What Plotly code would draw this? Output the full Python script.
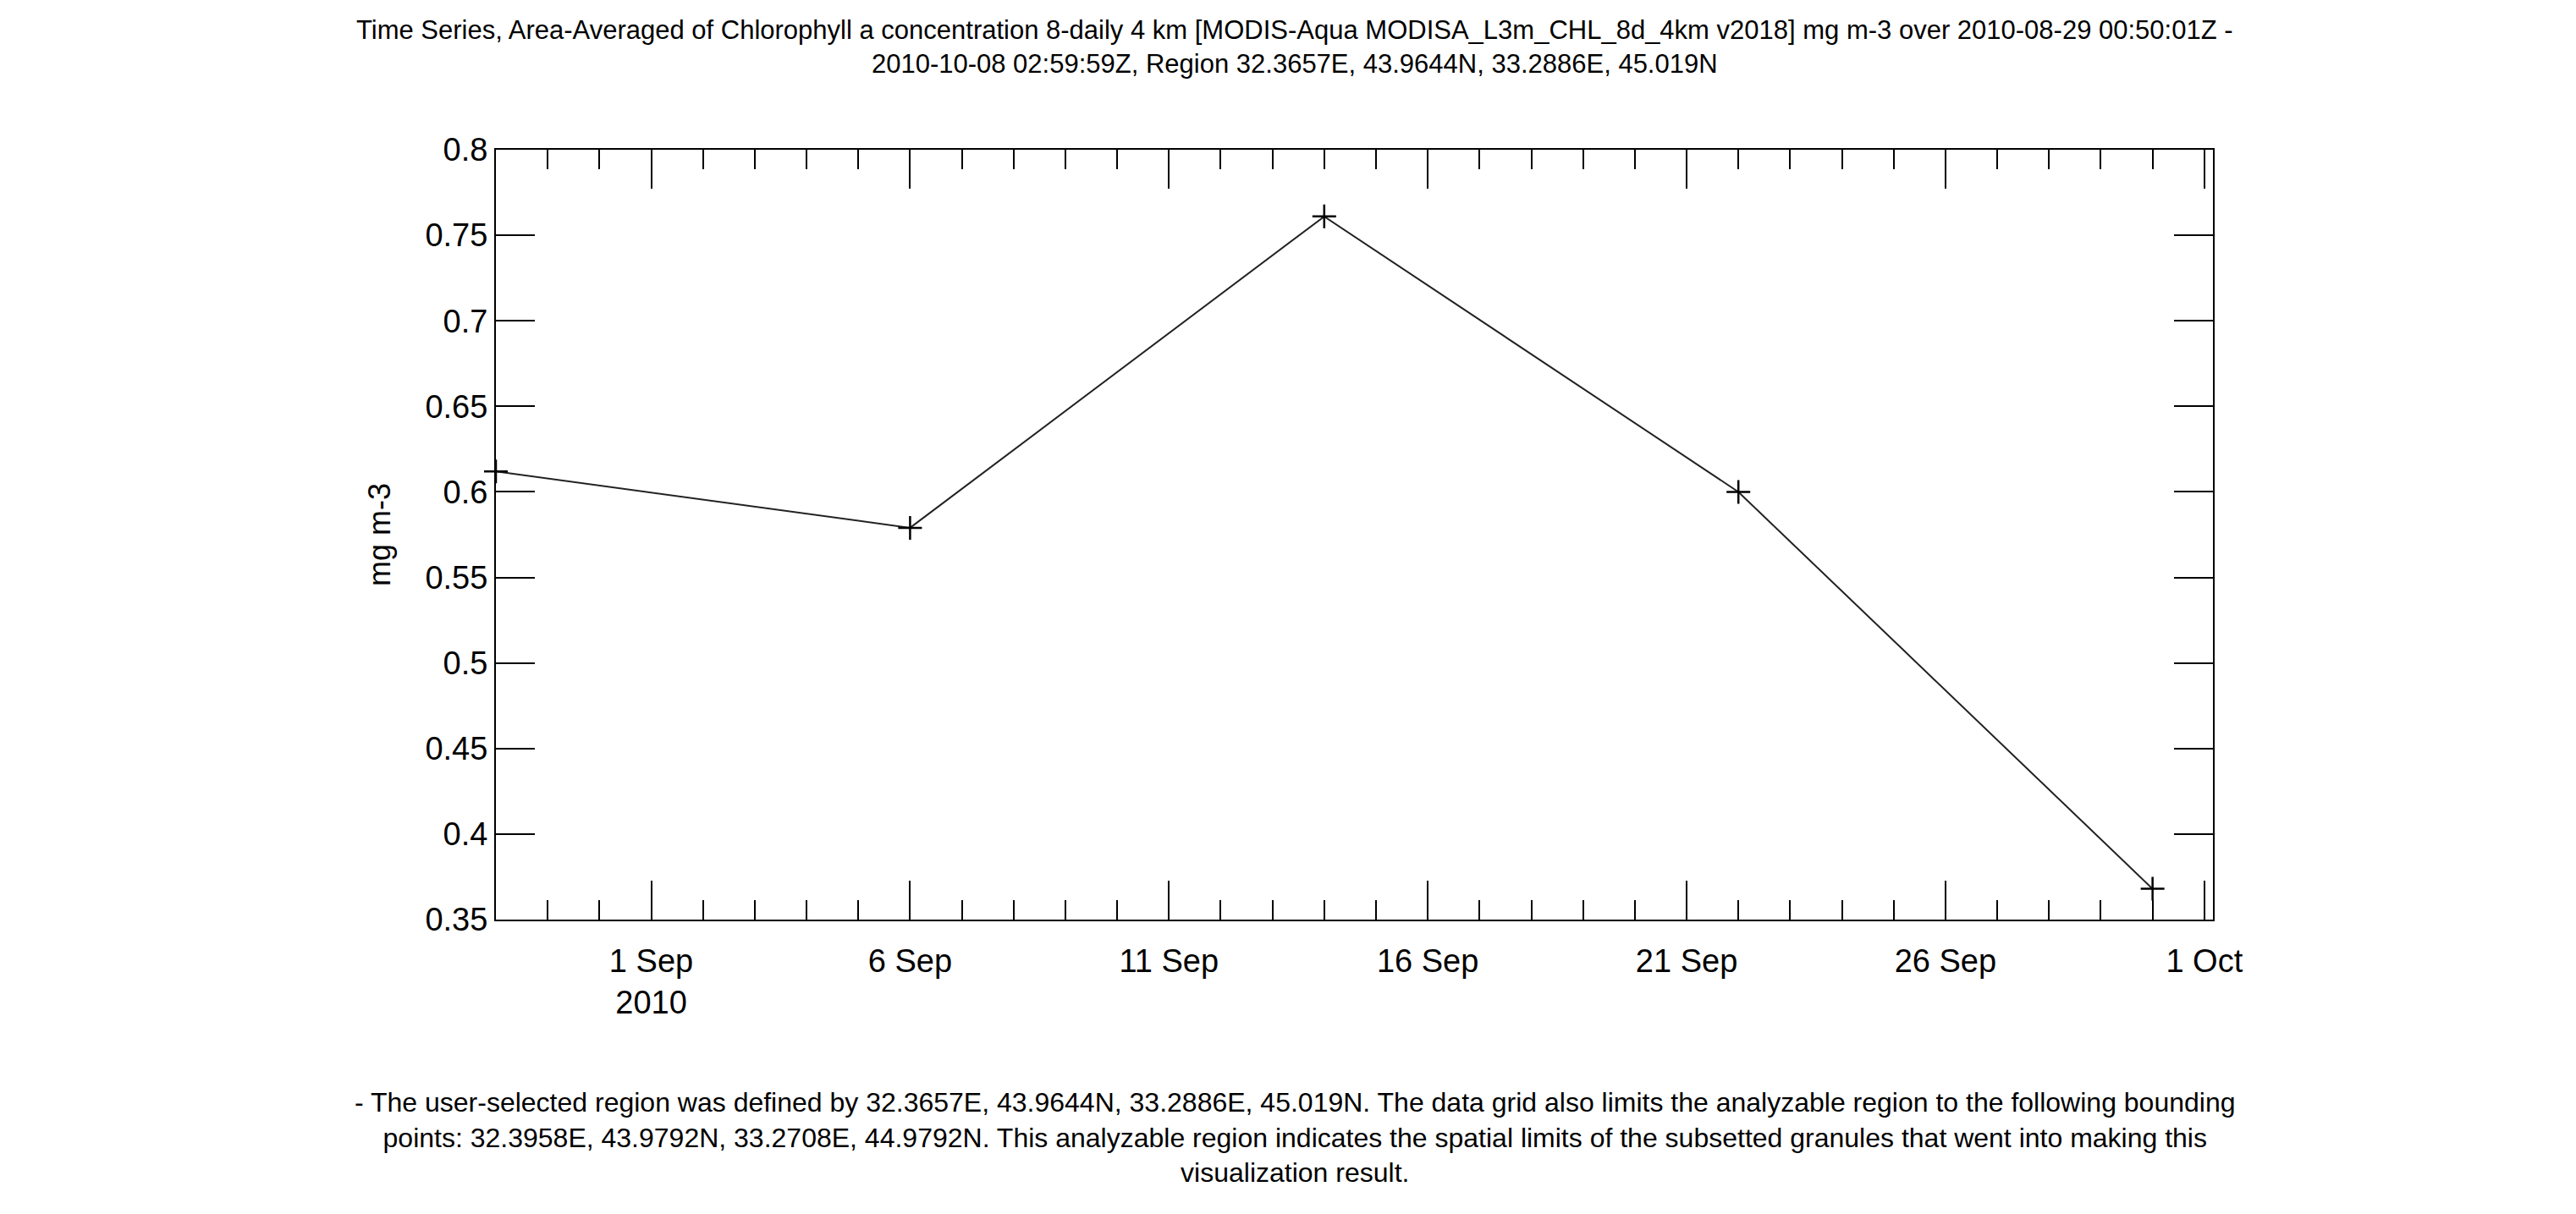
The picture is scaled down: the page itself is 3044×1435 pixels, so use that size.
import plotly.graph_objects as go

dates = ["2010-08-29", "2010-09-06", "2010-09-14", "2010-09-22", "2010-09-30"]
values = [0.612, 0.579, 0.761, 0.600, 0.368]
tick_dates = ["2010-09-01", "2010-09-06", "2010-09-11", "2010-09-16", "2010-09-21", "2010-09-26", "2010-10-01"]
tick_labels = ["1 Sep<br>2010", "6 Sep", "11 Sep", "16 Sep", "21 Sep", "26 Sep", "1 Oct"]
y_ticks = [0.35, 0.4, 0.45, 0.5, 0.55, 0.6, 0.65, 0.7, 0.75, 0.8]
y_labels = ["0.35", "0.4", "0.45", "0.5", "0.55", "0.6", "0.65", "0.7", "0.75", "0.8"]

title = ("Time Series, Area-Averaged of Chlorophyll a concentration 8-daily 4 km [MODIS-Aqua MODISA_L3m_CHL_8d_4km v2018] mg m-3 over 2010-08-29 00:50:01Z -<br>"
         "2010-10-08 02:59:59Z, Region 32.3657E, 43.9644N, 33.2886E, 45.019N")
note = ("- The user-selected region was defined by 32.3657E, 43.9644N, 33.2886E, 45.019N. The data grid also limits the analyzable region to the following bounding<br>"
        "points: 32.3958E, 43.9792N, 33.2708E, 44.9792N. This analyzable region indicates the spatial limits of the subsetted granules that went into making this<br>"
        "visualization result.")

fig = go.Figure(go.Scatter(
    x=dates, y=values, mode="lines+markers",
    line=dict(color="#222", width=2),
    marker=dict(symbol="cross-thin", size=20, line=dict(color="black", width=2.5)),
    cliponaxis=False,
))

font = "Liberation Sans, Arial, sans-serif"
L, R, T, B = 578, 437, 169, 356
PW, PH = 3044 - L - R, 1435 - T - B
cx = (1522 - L) / PW
fig.update_layout(
    width=3044, height=1435, plot_bgcolor="white", paper_bgcolor="white",
    margin=dict(l=L, r=R, t=T, b=B),
    font=dict(family=font, color="black", size=38),
    showlegend=False,
    annotations=[
        dict(text=title, xref="paper", yref="paper", x=cx, xanchor="center",
             y=1 + (T - 8) / PH, yanchor="top", showarrow=False, font=dict(size=31)),
        dict(text=note, xref="paper", yref="paper", x=cx, xanchor="center",
             y=-(1275 - (T + PH)) / PH, yanchor="top", showarrow=False, font=dict(size=32)),
    ],
)
fig.update_xaxes(
    range=["2010-08-29 00:00", "2010-10-01 04:00"], tickvals=tick_dates, ticktext=tick_labels,
    ticks="inside", ticklen=46, tickwidth=2, tickcolor="black",
    minor=dict(dtick=86400000, tick0="2010-09-01", ticks="inside", ticklen=23, tickwidth=2, tickcolor="black"),
    showline=True, linecolor="black", linewidth=2, mirror="ticks", showgrid=False,
    tickfont=dict(size=38), ticklabelstandoff=14,
)
fig.update_yaxes(
    range=[0.35, 0.8], tickvals=y_ticks, ticktext=y_labels,
    ticks="inside", ticklen=46, tickwidth=2, tickcolor="black",
    showline=True, linecolor="black", linewidth=2, mirror="ticks", showgrid=False, zeroline=False,
    title=dict(text="mg m-3", font=dict(size=36), standoff=30), tickfont=dict(size=38),
)
fig.write_html("out.html")
